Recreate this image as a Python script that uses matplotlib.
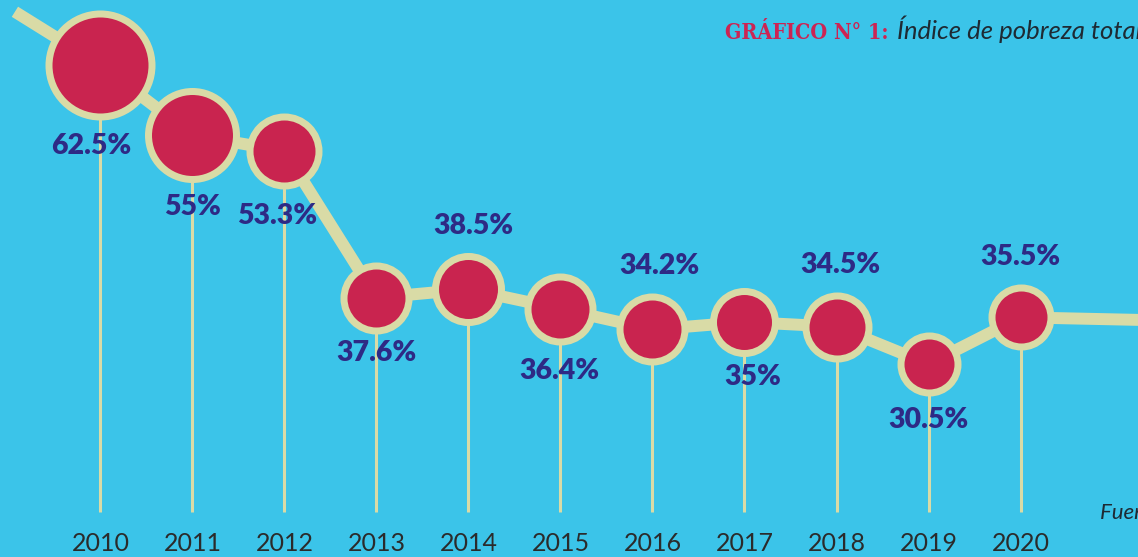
import matplotlib.pyplot as plt

# data
years = [2010, 2011, 2012, 2013, 2014, 2015, 2016, 2017, 2018, 2019, 2020]
pobreza = [62.5, 55, 53.3, 37.6, 38.5, 36.4, 34.2, 35, 34.5, 30.5, 35.5]
labels = ['62.5%', '55%', '53.3%', '37.6%', '38.5%', '36.4%', '34.2%', '35%', '34.5%', '30.5%', '35.5%']
# the trend line runs in from the top left and out past the right edge
lead_in = (2009.07, 68.2)
lead_out = (2021.4, 35.2)

# styling
bg = '#3BC4E9'
beige = '#D9DBA6'
pink = '#C9244F'
navy = '#2E2A85'
dot_px = [110, 95, 76, 72, 73, 72, 72, 69, 70, 64, 66]  # outer diameter of each dot, pixels
label_off = [(-9, -81), (0, -72), (-7, -65), (0, -55), (5, 63), (-1, -62),
             (7, 63), (8, -55), (4, 62), (0, -56), (0, 60)]  # label offset, pixels

fig = plt.figure(figsize=(11.38, 5.57), dpi=100)
fig.patch.set_facecolor(bg)
ax = fig.add_axes([0, 0, 1, 1])
ax.set_facecolor(bg)
ax.set_xlim(2008.908, 2021.277)
ax.set_ylim(9.85, 69.46)
ax.axis('off')

px2pt = 72 / 100
edge = 7 * px2pt

# thin drop lines to the year labels
for x, y in zip(years, pobreza):
    ax.plot([x, x], [14.66, y], color=beige, lw=2.2, solid_capstyle='butt', zorder=1)

# thick trend line
xs = [lead_in[0]] + years + [lead_out[0]]
ys = [lead_in[1]] + pobreza + [lead_out[1]]
ax.plot(xs, ys, color=beige, lw=8.6, solid_capstyle='butt', zorder=2)

# dots
for x, y, d in zip(years, pobreza, dot_px):
    ax.plot(x, y, 'o', ms=d * px2pt - edge, mfc=pink, mec=beige, mew=edge, zorder=3)

# value labels
for x, y, lab, off in zip(years, pobreza, labels, label_off):
    ax.annotate(lab, (x, y), xytext=off, textcoords='offset pixels',
                ha='center', va='center', fontsize=20.5, fontweight='heavy',
                family='Lato', color=navy, zorder=4)

# year labels
for x in years:
    ax.text(x, 0.0251, str(x), transform=ax.get_xaxis_transform(),
            ha='center', va='center', fontsize=18, family='Lato', color='#2B2B2B')

# title and source
fig.text(725 / 1138, 1 - 39 / 557, 'GRÁFICO N° 1:', ha='left', va='baseline',
         fontsize=15.5, fontweight='bold', family='DejaVu Serif', fontstretch='condensed',
         color='#CC2453')
fig.text(897 / 1138, 1 - 39 / 557, 'Índice de pobreza total', ha='left', va='baseline',
         fontsize=18.5, style='italic', family='Lato', color='#1E2A33')
fig.text(1100 / 1138, 1 - 519 / 557, 'Fuente: INEI', ha='left', va='baseline',
         fontsize=16, style='italic', family='Lato', color='#1E2A33')

fig.savefig('out.png', dpi=100, facecolor=bg)
